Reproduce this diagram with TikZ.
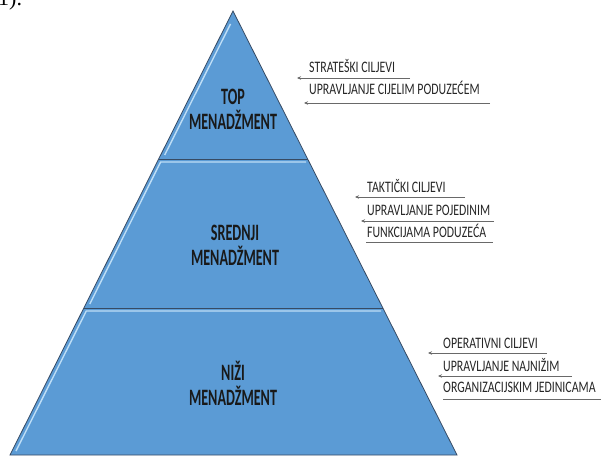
\documentclass[tikz,border=0pt]{standalone}
\usepackage{fontspec}
\setmainfont{Liberation Serif}
\newfontfamily\levelfont{Carlito}[FakeStretch=0.6]
\newfontfamily\goalfont{Carlito}[FakeStretch=0.74]
\usetikzlibrary{arrows.meta}
\definecolor{pyrblue}{RGB}{91,155,213}
\definecolor{pyredge}{RGB}{55,75,100}
\definecolor{pyrlight}{RGB}{190,222,246}
\definecolor{goalgray}{RGB}{105,105,105}

\begin{document}
\begin{tikzpicture}[x=1pt,y=-1pt,
    level/.style={font=\levelfont\bfseries\fontsize{23.5}{25}\selectfont, text=black!90, align=center, inner sep=0pt},
    goal/.style={font=\goalfont\fontsize{16}{18}\selectfont, anchor=base west, inner sep=0pt, text=black!85},
    toarrow/.style={draw=goalgray, line width=0.8pt, -{Stealth[length=4pt,width=3.5pt]}},
    underline/.style={draw=goalgray, line width=0.8pt}]
  \useasboundingbox (0,0) rectangle (601,457);
  \clip (0,0) rectangle (601,457);

  % Cut-off text above
  \node[anchor=base west, inner sep=0pt, font=\fontsize{22}{24}\selectfont] (frag) at (-2,6) {1).};

  % Pyramid corners
  \coordinate (apex) at (233,11);
  \coordinate (t1l) at (158.7,159);
  \coordinate (t1r) at (307.7,159);
  \coordinate (t2l) at (83.8,308);
  \coordinate (t2r) at (382.8,308);
  \coordinate (bl) at (10,455);
  \coordinate (br) at (457,455);

  % Pyramid body
  \fill[pyrblue] (apex) -- (br) -- (bl) -- cycle;

  % Light edges
  \draw[pyrlight, line width=1.4pt] (230.5,24) -- (164.7,155);
  \draw[pyrlight, line width=1.4pt] (89.8,304) -- (160.6,162) -- (306,162);
  \draw[pyrlight, line width=1.4pt] (16,451) -- (86.3,311) -- (381,311);

  % Outline and divisions
  \draw[pyredge, line width=0.8pt] (apex) -- (br) -- (bl) -- cycle;
  \draw[pyredge, line width=0.8pt] (t1l) -- (t1r);
  \draw[pyredge, line width=0.8pt] (t2l) -- (t2r);

  % Levels
  \node[level] (top) at (233,109) {TOP\\MENADŽMENT};
  \node[level] (mid) at (235,245) {SREDNJI\\MENADŽMENT};
  \node[level] (low) at (233,383) {NIŽI\\MENADŽMENT};

  % Top goals
  \node[goal] (stratgoal) at (309,72.5) {STRATEŠKI CILJEVI};
  \node[goal] (stratscope) at (309,94.5) {UPRAVLJANJE CIJELIM PODUZEĆEM};
  \coordinate (s1a) at (410,78);
  \coordinate (s1b) at (297,78);
  \coordinate (s2a) at (490,103);
  \coordinate (s2b) at (304,103);
  \draw[toarrow] (s1a) -- (s1b);
  \draw[toarrow] (s2a) -- (s2b);

  % Middle goals
  \node[goal] (taktgoal) at (367,192.5) {TAKTIČKI CILJEVI};
  \node[goal] (taktscope) at (367,215.5) {UPRAVLJANJE POJEDINIM};
  \node[goal] (taktscope2) at (367,237.5) {FUNKCIJAMA PODUZEĆA};
  \coordinate (m1a) at (465,197);
  \coordinate (m1b) at (355,197);
  \coordinate (m2a) at (494,221);
  \coordinate (m2b) at (361,221);
  \coordinate (m3a) at (366,242);
  \coordinate (m3b) at (493,242);
  \draw[toarrow] (m1a) -- (m1b);
  \draw[toarrow] (m2a) -- (m2b);
  \draw[underline] (m3a) -- (m3b);

  % Lower goals
  \node[goal] (opgoal) at (443,348.5) {OPERATIVNI CILJEVI};
  \node[goal] (opscope) at (443,371.5) {UPRAVLJANJE NAJNIŽIM};
  \node[goal] (opscope2) at (443,392.5) {ORGANIZACIJSKIM JEDINICAMA};
  \coordinate (l1a) at (547,353);
  \coordinate (l1b) at (428,353);
  \coordinate (l2a) at (572,376);
  \coordinate (l2b) at (438,376);
  \coordinate (l3a) at (443,399);
  \coordinate (l3b) at (605,399);
  \draw[toarrow] (l1a) -- (l1b);
  \draw[toarrow] (l2a) -- (l2b);
  \draw[underline] (l3a) -- (l3b);
\end{tikzpicture}
\end{document}
